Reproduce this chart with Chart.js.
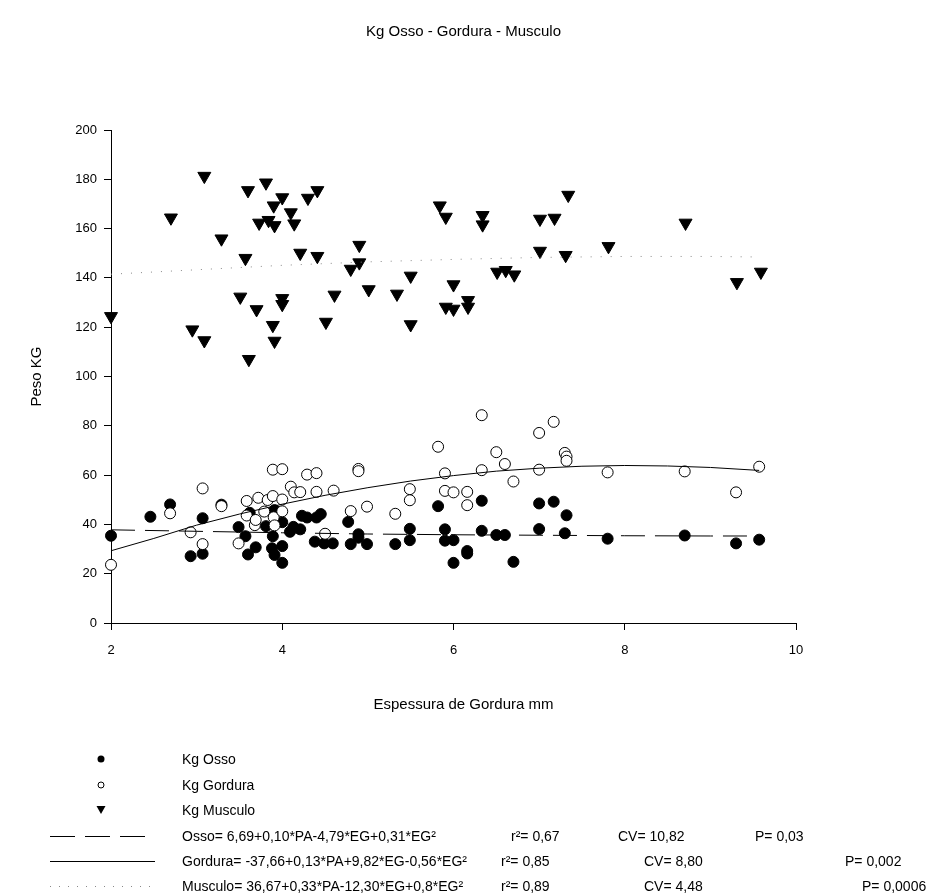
<!DOCTYPE html>
<html>
<head>
<meta charset="utf-8">
<title>Kg Osso - Gordura - Musculo</title>
<script src="https://cdn.jsdelivr.net/npm/chart.js@4.4.1/dist/chart.umd.min.js"></script>
<style>
  body { margin: 0; background: #fff; }
  #wrap { position: relative; width: 927px; height: 895px; }
  #chart { position: absolute; left: 0; top: 0; }
  #legend { position: absolute; left: 0; top: 0; width: 927px; height: 895px;
            font-family: "Liberation Sans", Arial, sans-serif; font-size: 14px; color: #000; }
  .lg-row { position: absolute; left: 0; width: 927px; height: 20px; }
  .lg-row span { position: absolute; top: 0; line-height: 20px; white-space: nowrap; }
  .lg-row svg { position: absolute; top: 0; }
</style>
</head>
<body>
<div id="wrap">
  <canvas id="chart" width="927" height="895"></canvas>
  <div id="legend"></div>
</div>
<script>
// ---- data -------------------------------------------------------------
const ossoX = [2.0, 2.46, 2.69, 2.93, 3.07, 3.07, 3.29, 3.49, 3.57, 3.60, 3.62, 3.69, 3.81, 3.88, 3.89, 3.91, 3.91,
  4.0, 4.0, 4.0, 4.09, 4.13, 4.21, 4.23, 4.29, 4.38, 4.40, 4.45, 4.49, 4.59, 4.77, 4.80, 4.89, 4.89, 4.99,
  5.32, 5.49, 5.49, 5.82, 5.90, 5.90, 6.0, 6.0, 6.16, 6.16, 6.33, 6.33, 6.50, 6.60, 6.70, 7.0, 7.0, 7.17,
  7.30, 7.32, 7.80, 8.70, 9.30, 9.57];
const ossoY = [35.4, 43.1, 48.1, 27.1, 42.5, 28.1, 48.0, 38.9, 35.2, 27.8, 44.7, 30.7, 39.3, 30.3, 35.2, 27.6, 45.8,
  24.4, 31.2, 40.9, 37.0, 39.0, 38.0, 43.5, 42.8, 33.0, 42.8, 44.2, 32.3, 32.3, 41.0, 32.0, 36.0, 34.6, 32.0,
  32.0, 38.2, 33.6, 47.4, 38.0, 33.4, 33.6, 24.4, 29.2, 28.2, 49.6, 37.4, 35.7, 35.7, 24.8, 48.5, 38.1, 49.2,
  36.4, 43.7, 34.2, 35.5, 32.3, 33.8];

const gorduraX = [2.0, 2.69, 2.93, 3.07, 3.07, 3.29, 3.49, 3.585, 3.585, 3.68, 3.69, 3.72, 3.79, 3.83, 3.89, 3.89,
  3.90, 3.91, 4.0, 4.0, 4.0, 4.10, 4.14, 4.21, 4.29, 4.40, 4.40, 4.50, 4.60, 4.80, 4.89, 4.89, 4.99, 5.32,
  5.49, 5.49, 5.82, 5.90, 5.90, 6.0, 6.16, 6.16, 6.33, 6.33, 6.50, 6.60, 6.70, 7.0, 7.0, 7.17, 7.30, 7.32,
  7.32, 7.80, 8.70, 9.30, 9.57];
const gorduraY = [23.6, 44.5, 36.8, 54.6, 32.0, 47.4, 32.3, 49.5, 43.6, 39.7, 41.8, 50.8, 45.2, 49.9, 51.5, 62.2,
  42.9, 39.6, 50.1, 62.4, 45.3, 55.3, 53.0, 53.1, 60.2, 60.8, 53.2, 36.2, 53.7, 45.4, 62.5, 61.6, 47.2, 44.3,
  54.3, 49.8, 71.5, 60.7, 53.6, 53.0, 53.2, 47.8, 84.3, 62.0, 69.3, 64.5, 57.4, 77.1, 62.2, 81.6, 69.0, 67.5,
  65.8, 61.1, 61.5, 53.0, 63.4];

const musculoX = [2.0, 2.70, 2.95, 3.09, 3.09, 3.29, 3.51, 3.57, 3.60, 3.61, 3.70, 3.73, 3.81, 3.84, 3.89, 3.90,
  3.91, 3.91, 4.0, 4.0, 4.0, 4.10, 4.14, 4.21, 4.30, 4.41, 4.41, 4.51, 4.61, 4.80, 4.90, 4.90, 5.01, 5.34,
  5.50, 5.50, 5.84, 5.91, 5.91, 6.0, 6.0, 6.17, 6.17, 6.34, 6.34, 6.51, 6.61, 6.71, 7.01, 7.01, 7.18, 7.31,
  7.34, 7.81, 8.71, 9.31, 9.59];
const musculoY = [124.4, 164.4, 119.0, 181.3, 114.6, 155.9, 132.3, 148.0, 175.5, 107.0, 127.2, 162.3, 178.6, 163.4,
  120.8, 169.3, 161.3, 114.4, 172.6, 131.7, 129.3, 166.5, 162.0, 150.1, 172.4, 175.5, 148.8, 122.1, 133.1,
  143.6, 153.3, 146.2, 135.3, 133.5, 140.8, 121.1, 169.3, 164.7, 128.2, 137.3, 127.4, 130.9, 128.2, 165.4,
  161.6, 142.4, 143.1, 141.3, 163.9, 150.9, 164.3, 149.2, 173.6, 152.8, 162.3, 138.2, 142.4];

// fitted curves
const ossoFitX = [2, 3, 4, 5, 6, 7, 8, 9, 9.57];
const ossoFitY = [37.8, 37.2, 36.6, 36.1, 35.8, 35.6, 35.4, 35.3, 35.3];
const gorduraFitX = [2, 2.5, 3, 3.5, 4, 4.5, 5, 5.5, 6, 6.5, 7, 7.5, 8, 8.5, 9, 9.57];
const gorduraFitY = [29.3, 34.3, 39.7, 44.2, 48.2, 51.8, 54.9, 57.6, 59.8, 61.6, 62.8, 63.6, 63.9, 63.7, 63.1, 61.9];
const musculoFitX = [2, 3, 4, 5, 6, 7, 8, 9, 9.53];
const musculoFitY = [141.5, 143.3, 145.1, 146.5, 147.5, 148.3, 148.7, 148.7, 148.5];

const xTicks = [2, 4, 6, 8, 10];
const yTicks = [0, 20, 40, 60, 80, 100, 120, 140, 160, 180, 200];

const chartTitle = 'Kg Osso - Gordura - Musculo';
const xTitle = 'Espessura de Gordura mm';
const yTitle = 'Peso KG';

const fitLabels = [
  'Osso= 6,69+0,10*PA-4,79*EG+0,31*EG²',
  'Gordura= -37,66+0,13*PA+9,82*EG-0,56*EG²',
  'Musculo= 36,67+0,33*PA-12,30*EG+0,8*EG²'
];
const fitR2 = ['r²= 0,67', 'r²= 0,85', 'r²= 0,89'];
const fitCV = ['CV= 10,82', 'CV= 8,80', 'CV= 4,48'];
const fitP = ['P= 0,03', 'P= 0,002', 'P= 0,0006'];

// ---- chart ------------------------------------------------------------
const FONT = '"Liberation Sans", Arial, sans-serif';
const pts = (xs, ys) => xs.map((x, i) => ({ x, y: ys[i] }));

const fitLine = (xs, ys, color, dash) => ({
  data: pts(xs, ys), showLine: true, pointRadius: 0, borderColor: color,
  borderWidth: 1, borderDash: dash, fill: false, tension: 0, order: 0, clip: false
});

// main title and x title are centred on the whole page, not on the plot area
const pageTitles = {
  id: 'pageTitles',
  afterDraw(chart) {
    const { ctx, width } = chart;
    ctx.save();
    ctx.fillStyle = '#000';
    ctx.textAlign = 'center';
    ctx.textBaseline = 'middle';
    ctx.font = '15px ' + FONT;
    ctx.fillText(chartTitle, width / 2, 32);
    ctx.fillText(xTitle, width / 2, 705);
    ctx.restore();
  }
};

new Chart(document.getElementById('chart'), {
  type: 'scatter',
  data: {
    datasets: [
      { label: 'Kg Gordura', data: pts(gorduraX, gorduraY), pointStyle: 'circle', pointRadius: 5.5,
        backgroundColor: '#fff', borderColor: '#000', borderWidth: 1, order: 1, clip: false },
      { label: 'Kg Osso', data: pts(ossoX, ossoY), pointStyle: 'circle', pointRadius: 5.5,
        backgroundColor: '#000', borderColor: '#000', borderWidth: 1, order: 2, clip: false },
      { label: 'Kg Musculo', data: pts(musculoX, musculoY), pointStyle: 'triangle', rotation: 180,
        pointRadius: 7.5, backgroundColor: '#000', borderColor: '#000', borderWidth: 1, order: 3, clip: false },
      fitLine(ossoFitX, ossoFitY, '#000', [24, 10]),
      fitLine(gorduraFitX, gorduraFitY, '#000', []),
      fitLine(musculoFitX, musculoFitY, '#888', [1, 9])
    ]
  },
  plugins: [pageTitles],
  options: {
    responsive: false,
    animation: false,
    events: [],
    layout: { padding: { left: 0, right: 131, top: 130, bottom: 165 } },
    plugins: {
      legend: { display: false },
      tooltip: { enabled: false },
      title: { display: false }
    },
    scales: {
      x: {
        type: 'linear', min: 2, max: 10,
        afterBuildTicks: s => { s.ticks = xTicks.map(v => ({ value: v })); },
        afterFit: s => { s.height = 107; },
        grid: { drawOnChartArea: false, drawTicks: true, tickLength: 7, color: '#000' },
        border: { display: true, color: '#000', width: 1 },
        ticks: { color: '#000', font: { family: FONT, size: 13 }, padding: 13, maxRotation: 0 }
      },
      y: {
        type: 'linear', min: 0, max: 200,
        afterBuildTicks: s => { s.ticks = yTicks.map(v => ({ value: v })); },
        afterFit: s => { s.width = 111; },
        grid: { drawOnChartArea: false, drawTicks: true, tickLength: 7, color: '#000' },
        border: { display: true, color: '#000', width: 1 },
        ticks: { color: '#000', font: { family: FONT, size: 13 }, padding: 7 },
        title: { display: true, text: yTitle, color: '#000',
                 font: { family: FONT, size: 15 }, padding: { top: 28, bottom: 0 } }
      }
    }
  }
});

// ---- legend -----------------------------------------------------------
const legend = document.getElementById('legend');
const rowY = [759, 785, 810, 836, 861, 886];
const symX = 101, textX = 182;
const symbols = [
  '<circle cx="6" cy="10" r="3.5" fill="#000"/>',
  '<circle cx="6" cy="10" r="3" fill="#fff" stroke="#000" stroke-width="1"/>',
  '<polygon points="1.5,6 10.5,6 6,14" fill="#000"/>'
];
const seriesNames = ['Kg Osso', 'Kg Gordura', 'Kg Musculo'];
const lineStyles = [
  '<line x1="0" y1="10.5" x2="96" y2="10.5" stroke="#000" stroke-dasharray="25 10"/>',
  '<line x1="0" y1="10.5" x2="105" y2="10.5" stroke="#000"/>',
  '<line x1="0" y1="10.5" x2="105" y2="10.5" stroke="#888" stroke-dasharray="1 8"/>'
];
const statCols = [[511, 618, 755], [501, 644, 845], [501, 644, 862]];

seriesNames.forEach((name, i) => {
  const row = document.createElement('div');
  row.className = 'lg-row';
  row.style.top = (rowY[i] - 10) + 'px';
  row.innerHTML = `<svg width="12" height="20" style="left:${symX - 6}px">${symbols[i]}</svg>` +
    `<span style="left:${textX}px">${name}</span>`;
  legend.appendChild(row);
});

fitLabels.forEach((label, i) => {
  const row = document.createElement('div');
  row.className = 'lg-row';
  row.style.top = (rowY[i + 3] - 10) + 'px';
  const c = statCols[i];
  row.innerHTML = `<svg width="110" height="20" style="left:50px">${lineStyles[i]}</svg>` +
    `<span style="left:${textX}px">${label}</span>` +
    `<span style="left:${c[0]}px">${fitR2[i]}</span>` +
    `<span style="left:${c[1]}px">${fitCV[i]}</span>` +
    `<span style="left:${c[2]}px">${fitP[i]}</span>`;
  legend.appendChild(row);
});
</script>
</body>
</html>
